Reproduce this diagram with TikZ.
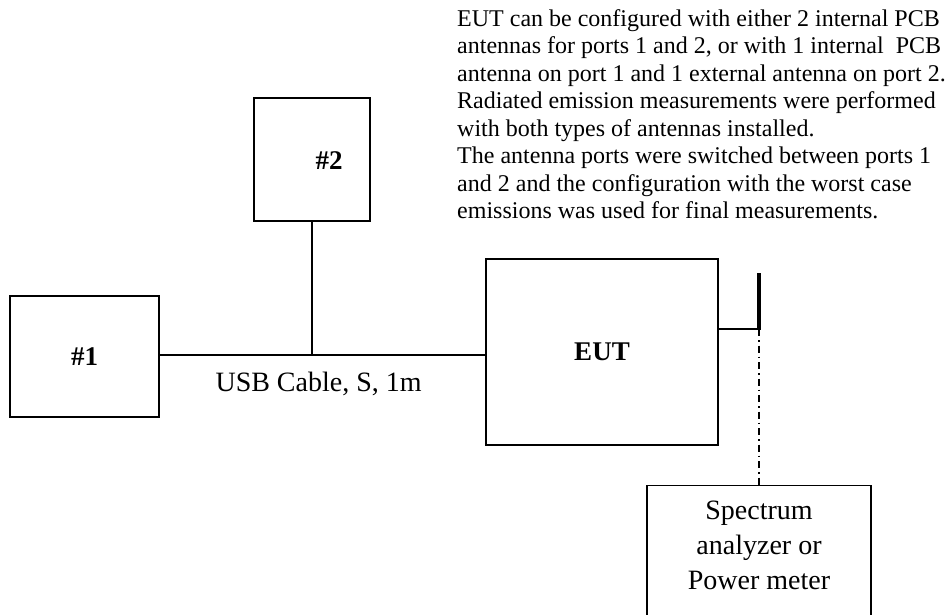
\documentclass[tikz,border=0pt]{standalone}
\usepackage{fontspec}
\setmainfont{Liberation Serif}
\usetikzlibrary{positioning}

\begin{document}
\begin{tikzpicture}[x=1pt,y=-1pt,
    unit/.style={draw, line width=1.4pt, inner sep=0pt, font=\fontsize{27}{31}\selectfont\bfseries},
    wire/.style={line width=1.4pt},
    probe/.style={line width=1.4pt, dash pattern=on 7pt off 4pt on 1.5pt off 4pt}]
  \useasboundingbox (0,0) rectangle (950,614);
  \node [unit, minimum width=149pt, minimum height=121pt] (pc1) at (84.5,356.5) {\#1};
  \node [unit, minimum width=116pt, minimum height=123pt] (pc2) at (312,159.5) {};
  \node [font=\fontsize{27}{31}\selectfont\bfseries, inner sep=0pt] (pc2lbl) at (329,161) {\#2};
  \node [unit, minimum width=232pt, minimum height=186pt] (eut) at (602,352) {EUT};
  \node [unit, minimum width=224pt, minimum height=170pt, anchor=north] (meter) at (759,485) {};
  \node [below=12pt of meter.north, align=center, font=\fontsize{28}{35}\selectfont] (meterlbl)
    {Spectrum\\analyzer or\\Power meter};
  % USB cable and branch to #2
  \coordinate (tap) at (312,355);
  \draw [wire] (pc1.east |- tap) -- (eut.west |- tap);
  \draw [wire] (pc2.south) -- (tap);
  \node [below right=14pt and -100pt of tap, font=\fontsize{28}{33}\selectfont] (cable) {USB Cable, S, 1m};
  % antenna
  \coordinate (feed) at (761,329);
  \coordinate (tip) at (759,273);
  \draw [wire] (eut.east |- feed) -- (feed);
  \draw [line width=4pt] (tip) -- (tip |- feed);
  \draw [probe] (tip |- feed) -- (meter.north);
  % note
  \node [anchor=north west, inner sep=0pt, align=left, font=\fontsize{24}{27.5}\selectfont] (note) at (457,9)
    {EUT can be configured with either 2 internal PCB\\
     antennas for ports 1 and 2, or with 1 internal \ PCB\\
     antenna on port 1 and 1 external antenna on port 2.\\
     Radiated emission measurements were performed\\
     with both types of antennas installed.\\
     The antenna ports were switched between ports 1\\
     and 2 and the configuration with the worst case\\
     emissions was used for final measurements.};
\end{tikzpicture}
\end{document}
